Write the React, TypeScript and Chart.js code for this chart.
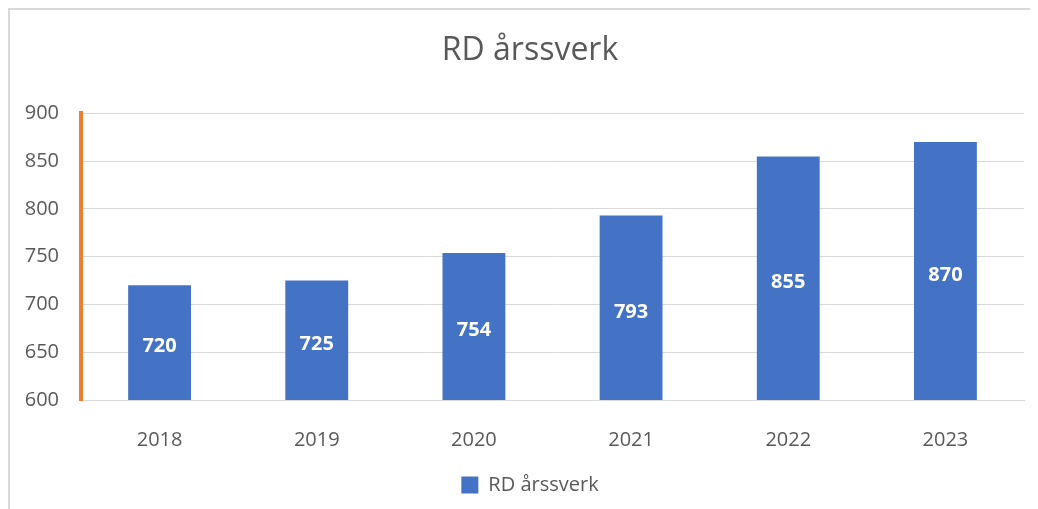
import React, { useEffect, useRef } from "react";
import { Chart, registerables } from "chart.js";

Chart.register(...registerables);

const categories: string[] = ["2018", "2019", "2020", "2021", "2022", "2023"];
const seriesName = "RD årssverk";
const values: number[] = [720, 725, 754, 793, 855, 870];
const yTicks: number[] = [600, 650, 700, 750, 800, 850, 900];

const FONT = "'Open Sans', 'DejaVu Sans', sans-serif";
const GREY = "#595959";

const dataLabelPlugin = {
  id: "barLabels",
  afterLayout(chart: any) {
    // let the y tick labels use the left padding area (avoid clipping)
    chart.scales.y.left = 0;
  },
  afterDraw(chart: any) {
    const ctx = chart.ctx;
    const xScale = chart.scales.x;
    const yScale = chart.scales.y;
    ctx.save();
    ctx.fillStyle = "#ffffff";
    ctx.font = "bold 20px 'Open Sans', sans-serif";
    ctx.textAlign = "center";
    ctx.textBaseline = "middle";
    values.forEach((v, i) => {
      const x = xScale.getPixelForValue(i);
      const top = yScale.getPixelForValue(v);
      const base = yScale.getPixelForValue(600);
      ctx.fillText(String(v), x, (top + base) / 2 + 4);
    });
    ctx.restore();
  },
};

export default function App() {
  const ref = useRef<HTMLCanvasElement>(null);
  useEffect(() => {
    document.body.style.overflow = "hidden";
    const chart = new Chart(ref.current!, {
      type: "bar",
      data: {
        labels: categories,
        datasets: [
          {
            label: seriesName,
            data: values,
            backgroundColor: "#4472C4",
            borderWidth: 0,
            categoryPercentage: 1,
            barPercentage: 0.4,
          },
        ],
      },
      options: {
        responsive: false,
        animation: false,
        layout: { padding: { left: 26, right: 14, top: 0, bottom: 4 } },
        plugins: {
          title: {
            display: true,
            text: seriesName,
            color: GREY,
            font: { family: FONT, size: 32, weight: "normal" as any },
            padding: { top: 22, bottom: 43 },
          },
          legend: {
            position: "bottom",
            labels: {
              color: GREY,
              font: { family: FONT, size: 20 },
              boxWidth: 17,
              boxHeight: 17,
              padding: 10,
            },
          },
          tooltip: { enabled: false },
        },
        scales: {
          x: {
            grid: { display: false, drawTicks: false },
            border: { display: true, color: "#d9d9d9", width: 1 },
            ticks: {
              color: GREY,
              font: { family: FONT, size: 20 },
              padding: 28,
            },
            afterFit: (s: any) => {
              s.height = 65;
            },
          },
          y: {
            min: 600,
            max: 900,
            afterBuildTicks: (s: any) => {
              s.ticks = yTicks.map((v) => ({ value: v }));
            },
            grid: { color: "#d9d9d9", lineWidth: 1, drawTicks: false },
            border: { display: true, color: "#ED7D31", width: 4 },
            ticks: {
              color: GREY,
              font: { family: FONT, size: 20 },
              padding: 22,
            },
            afterFit: (s: any) => {
              s.width = 45;
            },
          },
        },
      },
      plugins: [dataLabelPlugin],
    });
    return () => chart.destroy();
  }, []);
  return (
    <div
      style={{
        width: 1040,
        height: 510,
        borderTop: "2px solid #d9d9d9",
        borderLeft: "2px solid #d9d9d9",
        boxSizing: "border-box",
        overflow: "hidden",
      }}
    >
      <canvas ref={ref} width={1028} height={499} style={{ display: "block" }} />
    </div>
  );
}
